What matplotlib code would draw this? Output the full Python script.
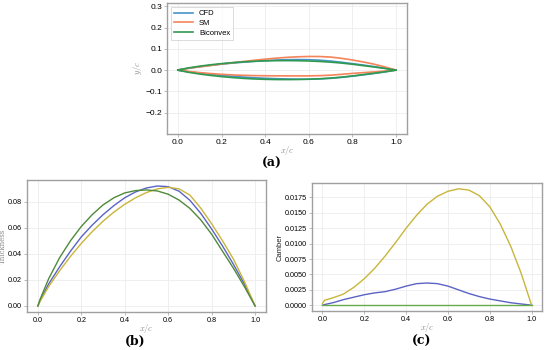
import matplotlib
matplotlib.use("Agg")
import matplotlib.pyplot as plt
import numpy as np

# chordwise stations x/c
x_c = [0.0, 0.01, 0.05, 0.1, 0.15, 0.2, 0.25, 0.3, 0.35, 0.4, 0.45, 0.5,
       0.55, 0.6, 0.65, 0.7, 0.75, 0.8, 0.85, 0.9, 0.95, 1.0]

# thickness distributions
thick_cfd = [0.0, 0.004, 0.017, 0.030, 0.042, 0.053, 0.062, 0.070, 0.077,
             0.083, 0.0875, 0.0905, 0.092, 0.0915, 0.088, 0.081, 0.071, 0.059,
             0.046, 0.032, 0.017, 0.0]
thick_sm = [0.0, 0.0035, 0.015, 0.027, 0.038, 0.048, 0.057, 0.065, 0.072,
            0.078, 0.083, 0.087, 0.0898, 0.091, 0.0898, 0.085, 0.075, 0.063,
            0.050, 0.036, 0.019, 0.0]
thick_biconvex = [0.0, 0.005, 0.021, 0.037, 0.050, 0.061, 0.070, 0.0775,
                  0.0830, 0.0867, 0.0885, 0.089, 0.0882, 0.0857, 0.0812, 0.0748,
                  0.066, 0.055, 0.042, 0.029, 0.015, 0.0]

# camber distributions
camber_cfd = [0.0, 0.0001, 0.0004, 0.0009, 0.0013, 0.0017, 0.0020, 0.0022,
              0.0026, 0.0031, 0.0035, 0.0036, 0.0035, 0.0031, 0.0025, 0.0019,
              0.0014, 0.0010, 0.0007, 0.0004, 0.0002, 0.0]
camber_sm = [0.0003, 0.0008, 0.0012, 0.0018, 0.0029, 0.0043, 0.0060, 0.0080,
             0.0102, 0.0125, 0.0146, 0.0164, 0.0177, 0.0185, 0.0189, 0.0187,
             0.0178, 0.0160, 0.0132, 0.0096, 0.0052, 0.0]
camber_biconvex = [0.0] * len(x_c)

plt.rcParams["mathtext.fontset"] = "cm"
plt.rcParams["font.family"] = "Liberation Sans"

fig = plt.figure(figsize=(5.5, 3.5), dpi=100)
ax_a = fig.add_axes([0.3036, 0.6171, 0.4364, 0.3743])
ax_b = fig.add_axes([0.0491, 0.1086, 0.4345, 0.3771])
ax_c = fig.add_axes([0.5673, 0.1114, 0.4182, 0.3657])


def style(ax, size=6):
    ax.grid(True, color="#ececec", linewidth=0.6)
    ax.set_axisbelow(True)
    for s in ax.spines.values():
        s.set_color("#a0a0a0")
        s.set_linewidth(1.0)
    ax.tick_params(labelsize=size, length=2, width=0.5, color="#a0a0a0", pad=1.5)


# (a) airfoil shapes: upper = camber + t/2, lower = camber - t/2
xa = np.array(x_c)
shapes = [
    ("CFD", thick_cfd, camber_cfd, "#4a93c8"),
    ("SM", thick_sm, camber_sm, "#f5845a"),
    ("Biconvex", thick_biconvex, camber_biconvex, "#2e9a50"),
]
for name, t, c, col in shapes:
    t = np.array(t)
    c = np.array(c)
    ax_a.plot(xa, c + t / 2, color=col, lw=1.2, label=name)
    ax_a.plot(xa, c - t / 2, color=col, lw=1.2)
ax_a.set_ylim(-0.3, 0.315)
ax_a.set_yticks([-0.2, -0.1, 0.0, 0.1, 0.2, 0.3])
ax_a.set_xlabel("$x/c$", fontsize=6, color="#888888", labelpad=-1)
ax_a.set_ylabel("$y/c$", fontsize=6, color="#888888", labelpad=1)
style(ax_a)
leg = ax_a.legend(loc="upper left", fontsize=5.5, frameon=True, handlelength=2.5,
                  borderpad=0.4, labelspacing=0.3, fancybox=False)
leg.get_frame().set_edgecolor("#cccccc")
leg.get_frame().set_linewidth(0.6)

# (b) thickness
ax_b.plot(x_c, thick_cfd, color="#5b63c4", lw=1.0)
ax_b.plot(x_c, thick_sm, color="#c9b53a", lw=1.0)
ax_b.plot(x_c, thick_biconvex, color="#4f8a3a", lw=1.0)
ax_b.set_yticks([0.0, 0.02, 0.04, 0.06, 0.08])
ax_b.set_xlabel("$x/c$", fontsize=6, color="#888888", labelpad=-1)
ax_b.set_ylabel("Thickness", fontsize=5, color="#888888", family="serif")
ax_b.yaxis.set_label_coords(-0.086, 0.5)
style(ax_b, 5.2)

# (c) camber
ax_c.plot(x_c, camber_cfd, color="#5b63c4", lw=1.0)
ax_c.plot(x_c, camber_sm, color="#c9b53a", lw=1.0)
ax_c.plot(x_c, camber_biconvex, color="#6aaa48", lw=1.0)
ax_c.set_yticks(np.arange(0, 0.0176, 0.0025))
ax_c.yaxis.set_major_formatter(plt.FormatStrFormatter("%.4f"))
ax_c.set_xlabel("$x/c$", fontsize=6, color="#888888", labelpad=-1)
ax_c.set_ylabel("Camber", fontsize=5.5, color="#222222", labelpad=1)
style(ax_c, 5.2)

for ax in (ax_a, ax_b, ax_c):
    ax.set_xticks([0.0, 0.2, 0.4, 0.6, 0.8, 1.0])

fig.text(272 / 550, 1 - 163 / 350, "(a)", ha="center", va="center",
         fontsize=9, fontweight="bold", family="serif")
fig.text(135 / 550, 1 - 341 / 350, "(b)", ha="center", va="center",
         fontsize=9, fontweight="bold", family="serif")
fig.text(422 / 550, 1 - 341 / 350, "(c)", ha="center", va="center",
         fontsize=9, fontweight="bold", family="serif")

fig.savefig("out.png", dpi=100)
